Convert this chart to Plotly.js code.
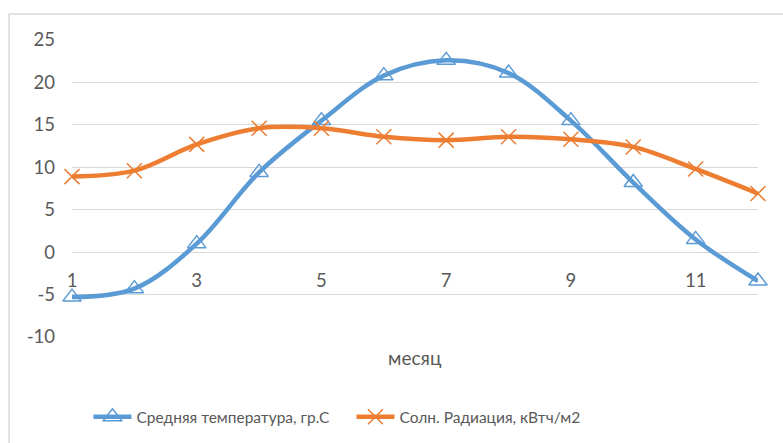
<!DOCTYPE html>
<html>
<head>
<meta charset="utf-8">
<script src="https://cdn.plot.ly/plotly-3.0.1.min.js"></script>
<style>html,body{margin:0;padding:0;background:#fff;}#chart{width:783px;height:443px;}</style>
</head>
<body>
<div id="chart"></div>
<script>
const months = [1,2,3,4,5,6,7,8,9,10,11,12];
const temperature = [-5.3,-4.3,1.0,9.4,15.5,20.8,22.6,21.1,15.5,8.2,1.5,-3.4];
const radiation = [8.9,9.6,12.7,14.6,14.6,13.6,13.2,13.6,13.3,12.4,9.8,6.9];
const seriesNames = ["Средняя температура, гр.С","Солн. Радиация, кВтч/м2"];
const xTitle = "месяц";
const yTickVals = [-10,-5,0,5,10,15,20,25];
const yTickText = ["-10","-5","0","5","10","15","20","25"];
const xTickVals = [1,3,5,7,9,11];
const xTickText = ["1","3","5","7","9","11"];

const FONT = "Lato, 'Liberation Sans', sans-serif";
const GREY = "#595959";

const traces = [
  {x: months, y: temperature, name: seriesNames[0], type: "scatter", mode: "lines+markers",
   line: {color: "#5b9bd5", width: 4.5, shape: "spline", smoothing: 1},
   marker: {symbol: "triangle-up-open", size: 16, color: "#5b9bd5", line: {color: "#5b9bd5", width: 1.5}},
   cliponaxis: false},
  {x: months, y: radiation, name: seriesNames[1], type: "scatter", mode: "lines+markers",
   line: {color: "#ed7d31", width: 4.5, shape: "spline", smoothing: 1},
   marker: {symbol: "x-thin-open", size: 15, color: "#ed7d31", line: {color: "#ed7d31", width: 1.5}},
   cliponaxis: false}
];

const layout = {
  width: 783, height: 443,
  margin: {l: 72, r: 25, t: 40, b: 106, autoexpand: false},
  paper_bgcolor: "#fff", plot_bgcolor: "#fff",
  font: {family: FONT, size: 18, color: GREY},
  showlegend: true,
  legend: {orientation: "h", x: 0.024, xanchor: "left", y: -0.27, yanchor: "middle",
           entrywidth: 210, entrywidthmode: "pixels",
           font: {family: FONT, size: 15.5, color: GREY}, itemwidth: 38, tracegroupgap: 0},
  xaxis: {range: [1, 12], tickvals: xTickVals, ticktext: xTickText, showgrid: false, zeroline: false, showline: false,
          anchor: "free", position: (0 - (-10)) / 35, ticks: "", ticklabelstandoff: 15,
          tickfont: {family: FONT, size: 18.5, color: GREY}},
  yaxis: {range: [-10, 25], tickvals: yTickVals, ticktext: yTickText, showgrid: true, gridcolor: "#d9d9d9", gridwidth: 1,
          zeroline: false, showline: false, ticks: "", ticklabelstandoff: 16,
          tickfont: {family: FONT, size: 18.5, color: GREY}},
  annotations: [{text: xTitle, xref: "paper", yref: "paper", x: 0.5, y: -0.068,
                 xanchor: "center", yanchor: "middle", showarrow: false,
                 font: {family: FONT, size: 19, color: GREY}}],
  shapes: [{type: "rect", xref: "paper", yref: "paper", x0: -0.0918, x1: 1.2, y0: -0.5, y1: 1.0875,
            line: {color: "#d9d9d9", width: 1.5}, fillcolor: "rgba(0,0,0,0)", layer: "below"}]
};

Plotly.newPlot("chart", traces, layout, {displayModeBar: false, staticPlot: true});
</script>
</body>
</html>
